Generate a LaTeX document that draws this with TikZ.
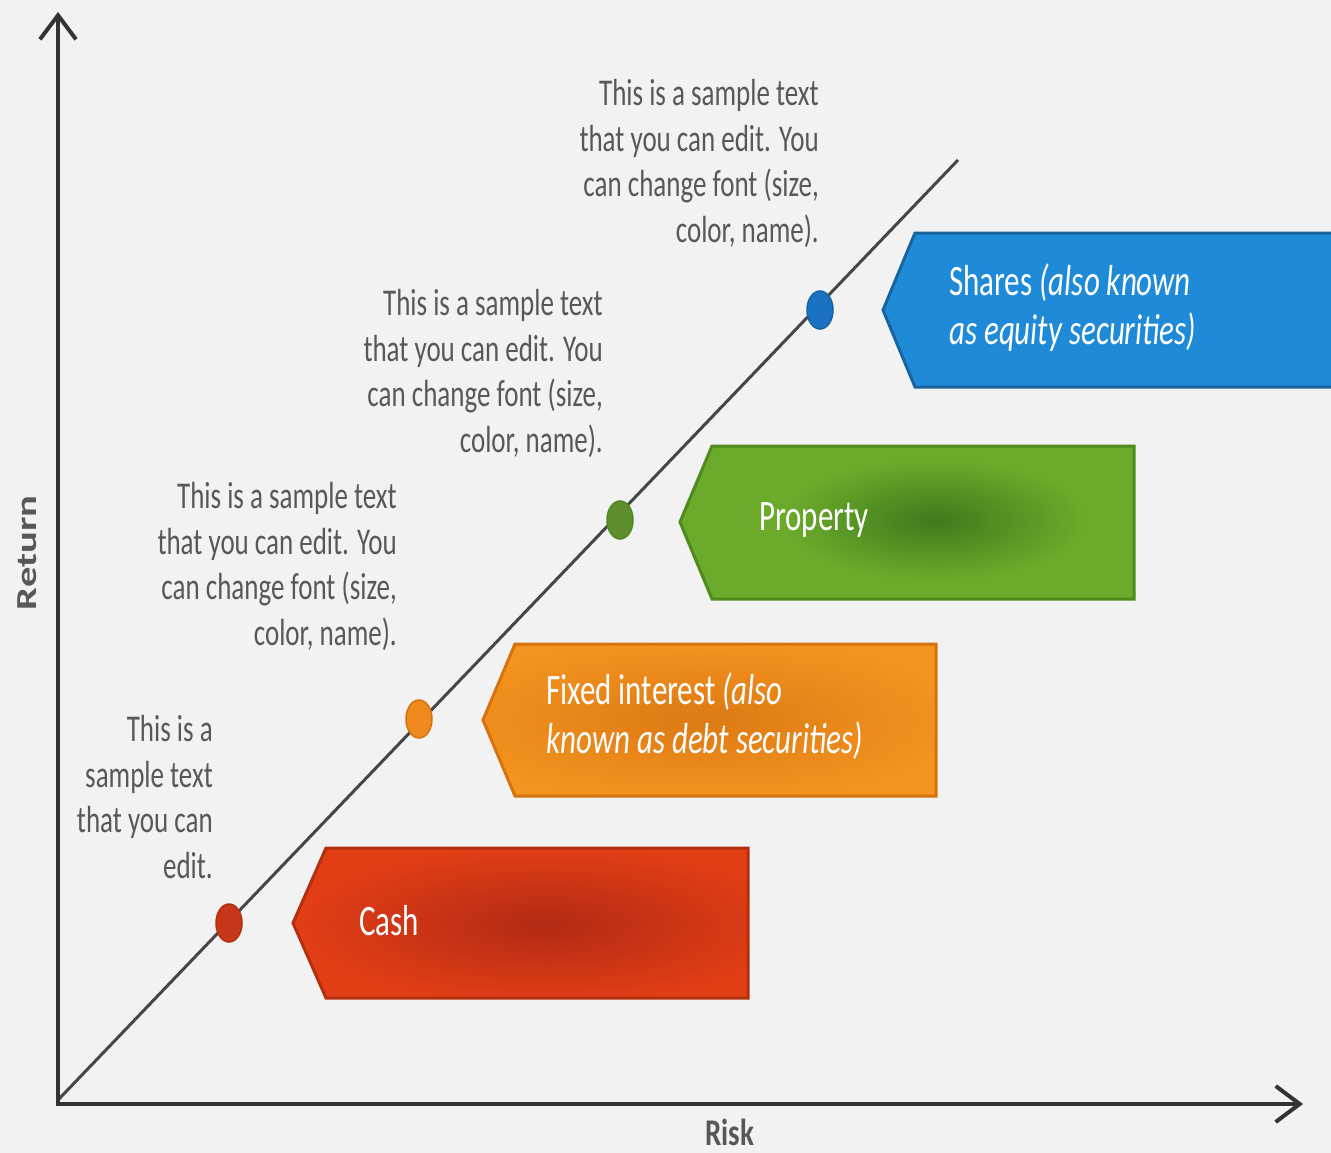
\documentclass[tikz,border=0pt]{standalone}
\usepackage{fontspec}
\setmainfont{Carlito}
\usepackage{graphicx}
\usetikzlibrary{arrows.meta}
\definecolor{bg}{HTML}{F2F2F2}
\definecolor{axisc}{HTML}{333333}
\definecolor{diagc}{HTML}{464646}
\definecolor{txtc}{HTML}{585858}
\definecolor{cashfill}{HTML}{E23E16}
\definecolor{cashline}{HTML}{B2300E}
\definecolor{cashdark}{HTML}{B32A14}
\definecolor{fixfill}{HTML}{F5931F}
\definecolor{fixline}{HTML}{D5740E}
\definecolor{fixdark}{HTML}{DC7A14}
\definecolor{propfill}{HTML}{6BAA2B}
\definecolor{propline}{HTML}{4F8A1E}
\definecolor{propdark}{HTML}{3F7A1C}
\definecolor{shfill}{HTML}{1E8AD8}
\definecolor{shline}{HTML}{17649E}
\definecolor{dotred}{HTML}{C8361A}
\definecolor{dotorange}{HTML}{EE8A1E}
\definecolor{dotgreen}{HTML}{5E8E2E}
\definecolor{dotblue}{HTML}{1C72C2}
\newcommand\stxt[1]{\scalebox{1}[1.4]{\fontsize{27}{32.5}\selectfont\begin{tabular}{@{}r@{}}#1\end{tabular}}}
\newcommand\btxt[1]{\scalebox{1}[1.4]{\fontsize{31}{35.7}\selectfont\begin{tabular}{@{}l@{}}#1\end{tabular}}}
\tikzset{
  sample/.style={anchor=east, inner sep=0pt, text=txtc},
  boxtext/.style={anchor=west, inner sep=0pt, text=white},
  axislabel/.style={inner sep=0pt, text=txtc, font=\fontsize{29}{29}\selectfont\bfseries},
  axisline/.style={draw=axisc, line width=4pt, line cap=butt,
    {Straight Barb[length=24pt, width=36pt, line width=4pt]}-{Straight Barb[length=24pt, width=36pt, line width=4pt]}},
  diagline/.style={draw=diagc, line width=3pt},
  tagborder/.style={line width=3pt, line join=miter},
}
\begin{document}
\begin{tikzpicture}[x=1pt, y=-1pt]
\useasboundingbox (0,0) rectangle (1331,1153);
\fill[bg] (0,0) rectangle (1331,1153);
\clip (0,0) rectangle (1331,1153);

% ---- Cash tag
\coordinate (cP) at (293,923); \coordinate (cTL) at (326,848); \coordinate (cTR) at (748,848);
\coordinate (cBR) at (748,998); \coordinate (cBL) at (326,998);
\fill[cashfill] (cP) -- (cTL) -- (cTR) -- (cBR) -- (cBL) -- cycle;
\begin{scope}
  \clip (cP) -- (cTL) -- (cTR) -- (cBR) -- (cBL) -- cycle;
  \shade[inner color=cashdark, outer color=cashfill] (545,925) ellipse [x radius=250, y radius=80];
\end{scope}
\draw[cashline, tagborder] (cP) -- (cTL) -- (cTR) -- (cBR) -- (cBL) -- cycle;

% ---- Fixed interest tag
\coordinate (fP) at (483,720); \coordinate (fTL) at (515,644); \coordinate (fTR) at (936,644);
\coordinate (fBR) at (936,796); \coordinate (fBL) at (515,796);
\fill[fixfill] (fP) -- (fTL) -- (fTR) -- (fBR) -- (fBL) -- cycle;
\begin{scope}
  \clip (fP) -- (fTL) -- (fTR) -- (fBR) -- (fBL) -- cycle;
  \shade[inner color=fixdark, outer color=fixfill] (700,720) ellipse [x radius=260, y radius=80];
\end{scope}
\draw[fixline, tagborder] (fP) -- (fTL) -- (fTR) -- (fBR) -- (fBL) -- cycle;

% ---- Property tag
\coordinate (pP) at (680,522); \coordinate (pTL) at (712,446); \coordinate (pTR) at (1134,446);
\coordinate (pBR) at (1134,599); \coordinate (pBL) at (712,599);
\fill[propfill] (pP) -- (pTL) -- (pTR) -- (pBR) -- (pBL) -- cycle;
\begin{scope}
  \clip (pP) -- (pTL) -- (pTR) -- (pBR) -- (pBL) -- cycle;
  \shade[inner color=propdark, outer color=propfill] (935,520) ellipse [x radius=150, y radius=60];
\end{scope}
\draw[propline, tagborder] (pP) -- (pTL) -- (pTR) -- (pBR) -- (pBL) -- cycle;

% ---- Shares tag
\coordinate (sP) at (883,310); \coordinate (sTL) at (915,233); \coordinate (sTR) at (1345,233);
\coordinate (sBR) at (1345,387); \coordinate (sBL) at (915,387);
\fill[shfill] (sP) -- (sTL) -- (sTR) -- (sBR) -- (sBL) -- cycle;
\draw[shline, tagborder] (sP) -- (sTL) -- (sTR) -- (sBR) -- (sBL) -- cycle;

% ---- diagonal line
\coordinate (dStart) at (58,1100);
\coordinate (dEnd) at (958,160);
\draw[diagline] (dStart) -- (dEnd);

% ---- dots
\draw[fill=dotred, draw=cashline, line width=1.5pt] (229,923) ellipse [x radius=13, y radius=19];
\draw[fill=dotorange, draw=fixline, line width=1.5pt] (419,719) ellipse [x radius=13, y radius=19];
\draw[fill=dotgreen, draw=propline, line width=1.5pt] (620,520) ellipse [x radius=13, y radius=19];
\draw[fill=dotblue, draw=shline, line width=1.5pt] (820,310) ellipse [x radius=13, y radius=19];

% ---- axes
\coordinate (yTip) at (58,12);
\coordinate (org) at (58,1104);
\coordinate (xTip) at (1303,1104);
\draw[axisline] (yTip) -- (org) -- (xTip);

% ---- axis labels
\node[axislabel, rotate=90] (retLbl) at (27,553) {\scalebox{1.4}[1]{Return}};
\node[axislabel] (riskLbl) at (730,1132) {\scalebox{1}[1.3]{Risk}};

% ---- sample texts
\node[sample] (s1) at (819,165) {\stxt{This is a sample text\\that you can edit. You\\can change font (size,\\color, name).}};
\node[sample] (s2) at (603,375) {\stxt{This is a sample text\\that you can edit. You\\can change font (size,\\color, name).}};
\node[sample] (s3) at (397,568) {\stxt{This is a sample text\\that you can edit. You\\can change font (size,\\color, name).}};
\node[sample] (s4) at (213,801) {\stxt{This is a\\sample text\\that you can\\edit.}};

% ---- tag texts
\node[boxtext] (tCash) at (359,925) {\btxt{Cash}};
\node[boxtext] (tFix) at (546,719) {\btxt{Fixed interest \textit{(also}\\\textit{known as debt securities)}}};
\node[boxtext] (tProp) at (759,521) {\btxt{Property}};
\node[boxtext] (tShares) at (949,310) {\btxt{Shares \textit{(also known}\\\textit{as equity securities)}}};
\end{tikzpicture}
\end{document}
